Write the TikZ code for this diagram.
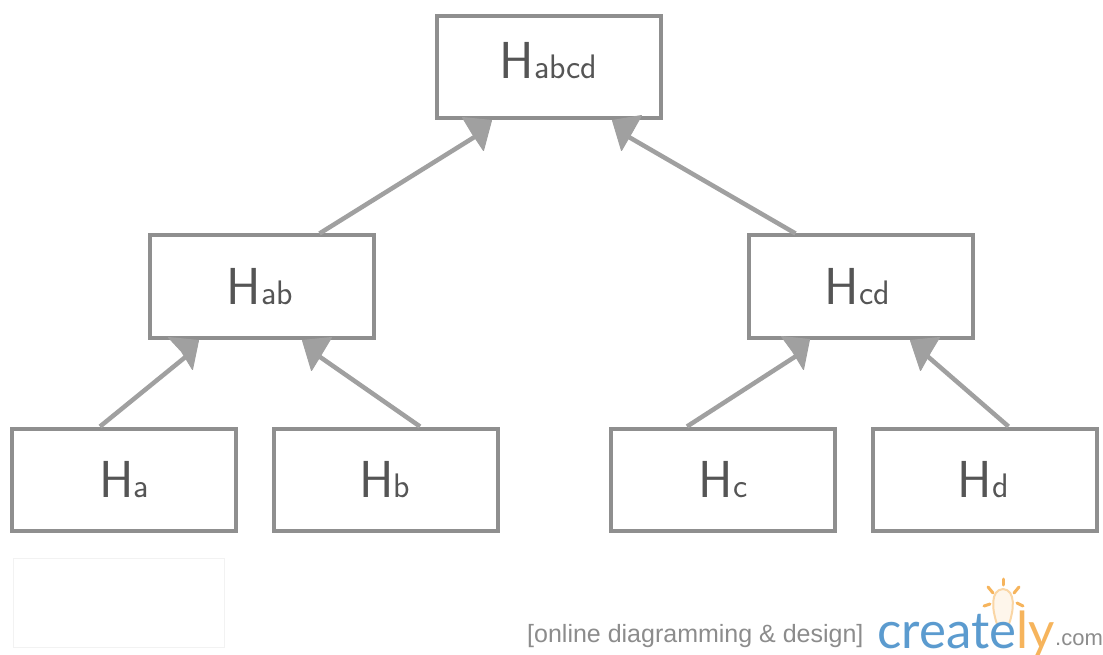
\documentclass[tikz,border=0pt]{standalone}
\usepackage{fontspec}
\setmainfont{Liberation Sans}
\newfontfamily\lmsans{Latin Modern Sans}
\newfontfamily\logofont{Lato}
\usetikzlibrary{calc}
\definecolor{boxgray}{HTML}{8F8F8F}
\definecolor{linkgray}{HTML}{A0A0A0}
\definecolor{labelgray}{HTML}{555555}
\definecolor{logoblue}{HTML}{5B9BCF}
\definecolor{logoorange}{HTML}{F6B45C}
\newcommand{\hlabel}[1]{{\lmsans\fontsize{52}{52}\selectfont H\fontsize{34}{34}\selectfont #1}}
\tikzset{
  hbox/.style={draw=boxgray,line width=4pt,fill=white,minimum width=224pt,minimum height=102pt,inner sep=0pt,text=labelgray},
  link/.style={draw=linkgray,line width=4.5pt},
  headfill/.style={fill=linkgray,draw=linkgray,line width=1pt,line join=round},
  ray/.style={draw=logoorange,line width=3pt,line cap=round}
}
\begin{document}
\begin{tikzpicture}[x=1pt,y=-1pt]
\useasboundingbox[fill=white] (0,0) rectangle (1103,655);
\clip (0,0) rectangle (1103,655);
\node[hbox] (habcd) at (548.5,67.5) {\raisebox{14pt}{\hlabel{abcd}}};
\node[hbox] (hab) at (261.5,286.5) {\kern-3pt\hlabel{ab}};
\node[hbox] (hcd) at (860.5,286.5) {\kern-6pt\hlabel{cd}};
\node[hbox] (ha) at (124,479.5) {\hlabel{a}};
\node[hbox] (hb) at (386,479.5) {\kern-3pt\hlabel{b}};
\node[hbox] (hc) at (723,479.5) {\hlabel{c}};
\node[hbox] (hd) at (984.5,479.5) {\kern-3pt\hlabel{d}};
% connectors
\draw[link] ([xshift=58pt]hab.north) -- ([shift={(-70pt,-14pt)}]habcd.south);
\draw[link] ([xshift=-65pt]hcd.north) -- ([shift={(76pt,-14pt)}]habcd.south);
\draw[link] ([xshift=-24pt]ha.north) -- ([shift={(-73pt,-15pt)}]hab.south);
\draw[link] ([xshift=34pt]hb.north) -- ([shift={(55pt,-15pt)}]hab.south);
\draw[link] ([xshift=-36pt]hc.north) -- ([shift={(-62pt,-15pt)}]hcd.south);
\draw[link] ([xshift=24pt]hd.north) -- ([shift={(65pt,-15pt)}]hcd.south);
% arrowheads
\fill[headfill] ([shift={(-86pt,3pt)}]habcd.south) -- ([shift={(-57pt,0pt)}]habcd.south) -- ([shift={(-65pt,-30pt)}]habcd.south) -- ([shift={(-77pt,-12pt)}]habcd.south) -- cycle;
\fill[headfill] ([shift={(93pt,5pt)}]habcd.south) -- ([shift={(64pt,0pt)}]habcd.south) -- ([shift={(73pt,-30pt)}]habcd.south) -- ([shift={(84pt,-11pt)}]habcd.south) -- cycle;
\fill[headfill] ([shift={(-93pt,2pt)}]hab.south) -- ([shift={(-63pt,-1pt)}]hab.south) -- ([shift={(-69pt,-30pt)}]hab.south) -- ([shift={(-80pt,-12pt)}]hab.south) -- cycle;
\fill[headfill] ([shift={(70pt,2pt)}]hab.south) -- ([shift={(41pt,-1pt)}]hab.south) -- ([shift={(50pt,-31pt)}]hab.south) -- ([shift={(61pt,-13pt)}]hab.south) -- cycle;
\fill[headfill] ([shift={(-79pt,3pt)}]hcd.south) -- ([shift={(-51pt,0pt)}]hcd.south) -- ([shift={(-57pt,-30pt)}]hcd.south) -- ([shift={(-68pt,-12pt)}]hcd.south) -- cycle;
\fill[headfill] ([shift={(79pt,2pt)}]hcd.south) -- ([shift={(50pt,-1pt)}]hcd.south) -- ([shift={(60pt,-31pt)}]hcd.south) -- ([shift={(70pt,-13pt)}]hcd.south) -- cycle;
% faint empty box
\node[draw=black!5,line width=1.5pt,minimum width=211pt,minimum height=89pt,inner sep=0pt] (blank) at (119,603) {};
% bulb
\draw[draw=logoorange!55,line width=2pt,fill=logoorange!12] (997,624) .. controls (992,610) and (990,590) .. (1003,589) .. controls (1016,590) and (1014,610) .. (1009,624) -- cycle;
\draw[ray] (1003,579) -- (1003,585);
\draw[ray] (988,587) -- (993,593);
\draw[ray] (1019,587) -- (1014,593);
\draw[ray] (984,606) -- (990,604);
\draw[ray] (1023,606) -- (1017,603);
% logo
\node[anchor=base west,inner sep=0pt,text=black!45] (tag) at (527,642) {\fontsize{25}{25}\selectfont [online diagramming \& design]};
\node[anchor=base west,inner sep=0pt] (logo) at (877,648) {\logofont\fontsize{51}{51}\selectfont\textcolor{logoblue}{create}\textcolor{logoorange}{ly}};
\node[anchor=base west,inner sep=0pt,text=black!45] (dotcom) at (1055,645) {\fontsize{22}{24}\selectfont .com};
\end{tikzpicture}
\end{document}
